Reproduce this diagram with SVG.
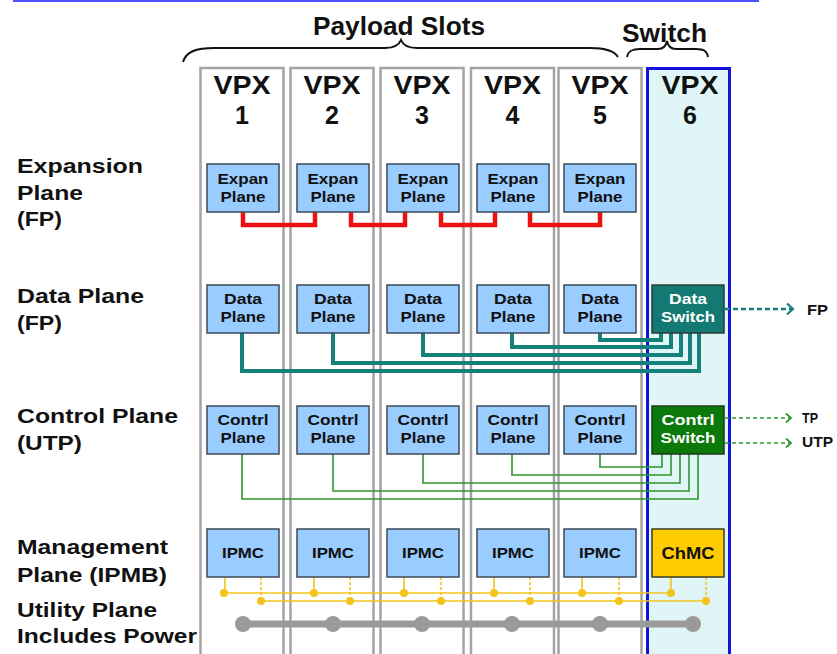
<svg xmlns="http://www.w3.org/2000/svg" width="837" height="654" viewBox="0 0 837 654">
  <style>
    text { font-family: "Liberation Sans", Arial, sans-serif; font-weight: bold; fill: #111; }
    .big { font-size: 25px; }
    .lbl { font-size: 20px; }
    .bx { font-size: 15px; text-anchor: middle; }
    .wt { fill: #ffffff; }
    .tag { font-size: 15px; }
    .slot { fill: #ffffff; stroke: #a3a3a3; stroke-width: 2.5; }
    .slot6 { fill: #e0f6f6; stroke: #1212dd; stroke-width: 3; }
    .card { fill: #99ccff; stroke: #3c4a58; stroke-width: 1.5; }
    .brace { fill: none; stroke: #111; stroke-width: 2; }
    .exp { fill: none; stroke: #ee1111; stroke-width: 4.5; }
    .dat { fill: none; stroke: #14807a; stroke-width: 4; }
    .ctl { fill: none; stroke: #2f952f; stroke-width: 1.6; }
    .ipa { fill: none; stroke: #f2c41c; stroke-width: 1.6; }
    .ipb { fill: none; stroke: #f2c41c; stroke-width: 1.6; stroke-dasharray: 3 2; }
    .dot { fill: #f2c41c; }
    .pwr { fill: none; stroke: #9a9a9a; stroke-width: 7; }
    .pdot { fill: #9a9a9a; }
  </style>
  <defs>
    <marker id="chevT" markerUnits="userSpaceOnUse" markerWidth="14" markerHeight="14" refX="9" refY="7" orient="auto">
      <polyline points="3,1.5 9,7 3,12.5" fill="none" stroke="#14807a" stroke-width="2.2"/>
    </marker>
    <marker id="chevG" markerUnits="userSpaceOnUse" markerWidth="12" markerHeight="12" refX="8" refY="6" orient="auto">
      <polyline points="3,1.5 8,6 3,10.5" fill="none" stroke="#2f952f" stroke-width="1.7"/>
    </marker>
  </defs>

  <!-- top rule -->
  <rect x="13" y="0" width="746" height="2" fill="#5050ff"/>

  <!-- headings and braces -->
  <g id="heading-payload">
    <text class="big" x="313" y="35" textLength="172" lengthAdjust="spacingAndGlyphs">Payload Slots</text>
    <path class="brace" d="M183,62 C186,52 195,48 215,48 L385,48 C395,48 399,45 401,40 C403,45 407,48 417,48 L590,48 C606,48 615,52 618,57"/>
  </g>
  <g id="heading-switch">
    <text class="big" x="622" y="42" textLength="85" lengthAdjust="spacingAndGlyphs">Switch</text>
    <path class="brace" d="M627,57 C628,51 632,49 640,49 L658,49 C663,49 666,46 667,41 C668,46 671,49 676,49 L696,49 C704,49 707,51 708,57"/>
  </g>

  <!-- plane labels -->
  <g id="row-labels">
    <text class="lbl" x="17" y="173" textLength="126" lengthAdjust="spacingAndGlyphs">Expansion</text>
    <text class="lbl" x="17" y="200" textLength="66" lengthAdjust="spacingAndGlyphs">Plane</text>
    <text class="lbl" x="17" y="226" textLength="45" lengthAdjust="spacingAndGlyphs">(FP)</text>
    <text class="lbl" x="17" y="303" textLength="127" lengthAdjust="spacingAndGlyphs">Data Plane</text>
    <text class="lbl" x="17" y="330" textLength="45" lengthAdjust="spacingAndGlyphs">(FP)</text>
    <text class="lbl" x="17" y="423" textLength="161" lengthAdjust="spacingAndGlyphs">Control Plane</text>
    <text class="lbl" x="17" y="450" textLength="65" lengthAdjust="spacingAndGlyphs">(UTP)</text>
    <text class="lbl" x="17" y="554" textLength="151" lengthAdjust="spacingAndGlyphs">Management</text>
    <text class="lbl" x="17" y="582" textLength="150" lengthAdjust="spacingAndGlyphs">Plane (IPMB)</text>
    <text class="lbl" x="17" y="617" textLength="140" lengthAdjust="spacingAndGlyphs">Utility Plane</text>
    <text class="lbl" x="17" y="643" textLength="180" lengthAdjust="spacingAndGlyphs">Includes Power</text>
  </g>

  <!-- slot columns -->
  <g id="slot-1">
    <rect class="slot" x="200.5" y="68" width="83" height="600"/>
    <text class="big" x="242" y="94" text-anchor="middle" textLength="57" lengthAdjust="spacingAndGlyphs">VPX</text>
    <text class="big" x="242" y="124" text-anchor="middle">1</text>
  </g>
  <g id="slot-2">
    <rect class="slot" x="290.5" y="68" width="83" height="600"/>
    <text class="big" x="332" y="94" text-anchor="middle" textLength="57" lengthAdjust="spacingAndGlyphs">VPX</text>
    <text class="big" x="332" y="124" text-anchor="middle">2</text>
  </g>
  <g id="slot-3">
    <rect class="slot" x="380.5" y="68" width="83" height="600"/>
    <text class="big" x="422" y="94" text-anchor="middle" textLength="57" lengthAdjust="spacingAndGlyphs">VPX</text>
    <text class="big" x="422" y="124" text-anchor="middle">3</text>
  </g>
  <g id="slot-4">
    <rect class="slot" x="471" y="68" width="83" height="600"/>
    <text class="big" x="512.5" y="94" text-anchor="middle" textLength="57" lengthAdjust="spacingAndGlyphs">VPX</text>
    <text class="big" x="512.5" y="124" text-anchor="middle">4</text>
  </g>
  <g id="slot-5">
    <rect class="slot" x="558.5" y="68" width="83" height="600"/>
    <text class="big" x="600" y="94" text-anchor="middle" textLength="57" lengthAdjust="spacingAndGlyphs">VPX</text>
    <text class="big" x="600" y="124" text-anchor="middle">5</text>
  </g>
  <g id="slot-6">
    <rect class="slot6" x="647.5" y="68.5" width="82" height="600"/>
    <text class="big" x="690" y="94" text-anchor="middle" textLength="57" lengthAdjust="spacingAndGlyphs">VPX</text>
    <text class="big" x="690" y="124" text-anchor="middle">6</text>
  </g>

  <!-- connectors -->
  <g id="connectors">
    <!-- expansion plane links -->
    <path class="exp" d="M243,212 V225 H315 V212"/>
    <path class="exp" d="M351,212 V225 H405 V212"/>
    <path class="exp" d="M441,212 V225 H495 V212"/>
    <path class="exp" d="M530,212 V225 H600 V212"/>
    <!-- data plane to data switch -->
    <path class="dat" d="M600,333 V340 H661 V333"/>
    <path class="dat" d="M512,333 V347 H671 V333"/>
    <path class="dat" d="M423,333 V355 H681 V333"/>
    <path class="dat" d="M333,333 V363 H690 V333"/>
    <path class="dat" d="M242,333 V371 H699 V333"/>
    <!-- control plane to control switch -->
    <path class="ctl" d="M600,454 V467 H662 V454"/>
    <path class="ctl" d="M512,454 V475 H671 V454"/>
    <path class="ctl" d="M423,454 V483 H680 V454"/>
    <path class="ctl" d="M333,454 V491 H689 V454"/>
    <path class="ctl" d="M242,454 V499 H698 V454"/>
    <!-- external fabric links -->
    <line x1="725" y1="309" x2="793" y2="309" stroke="#14807a" stroke-width="2.4" stroke-dasharray="5 3" marker-end="url(#chevT)"/>
    <line x1="725" y1="418" x2="791" y2="418" stroke="#2f952f" stroke-width="1.6" stroke-dasharray="4 3" marker-end="url(#chevG)"/>
    <line x1="725" y1="443" x2="791" y2="443" stroke="#2f952f" stroke-width="1.6" stroke-dasharray="4 3" marker-end="url(#chevG)"/>
    <!-- IPMB A -->
    <path class="ipa" d="M221,593 H671"/>
    <path class="ipa" d="M225,577 V593 M314,577 V593 M404,577 V593 M494,577 V593 M582,577 V593 M671,577 V593"/>
    <!-- IPMB B -->
    <path class="ipa" d="M259,601 H706"/>
    <path class="ipb" d="M261,577 V601 M350,577 V601 M441,577 V601 M530,577 V601 M619,577 V601 M706,577 V601"/>
    <g>
      <circle class="dot" cx="224" cy="593" r="4"/>
      <circle class="dot" cx="314" cy="593" r="4"/>
      <circle class="dot" cx="404" cy="593" r="4"/>
      <circle class="dot" cx="494" cy="593" r="4"/>
      <circle class="dot" cx="582" cy="593" r="4"/>
      <circle class="dot" cx="671" cy="593" r="4"/>
      <circle class="dot" cx="261" cy="601" r="4"/>
      <circle class="dot" cx="350" cy="601" r="4"/>
      <circle class="dot" cx="441" cy="601" r="4"/>
      <circle class="dot" cx="530" cy="601" r="4"/>
      <circle class="dot" cx="619" cy="601" r="4"/>
      <circle class="dot" cx="706" cy="601" r="4"/>
    </g>
    <!-- utility power bus -->
    <path class="pwr" d="M243,624 H693"/>
    <g>
      <circle class="pdot" cx="243" cy="624" r="8"/>
      <circle class="pdot" cx="333" cy="624" r="8"/>
      <circle class="pdot" cx="422" cy="624" r="8"/>
      <circle class="pdot" cx="512" cy="624" r="8"/>
      <circle class="pdot" cx="600" cy="624" r="8"/>
      <circle class="pdot" cx="693" cy="624" r="8"/>
    </g>
  </g>

  <text class="tag" x="807" y="315" textLength="21" lengthAdjust="spacingAndGlyphs">FP</text>
  <text class="tag" x="802" y="423" textLength="16" lengthAdjust="spacingAndGlyphs">TP</text>
  <text class="tag" x="802" y="447" textLength="31" lengthAdjust="spacingAndGlyphs">UTP</text>

  <!-- expansion plane cards -->
  <g id="exp-1"><rect class="card" x="207" y="164" width="72" height="48"/><text class="bx" x="243" y="184" textLength="51" lengthAdjust="spacingAndGlyphs">Expan</text><text class="bx" x="243" y="202" textLength="45" lengthAdjust="spacingAndGlyphs">Plane</text></g>
  <g id="exp-2"><rect class="card" x="297" y="164" width="72" height="48"/><text class="bx" x="333" y="184" textLength="51" lengthAdjust="spacingAndGlyphs">Expan</text><text class="bx" x="333" y="202" textLength="45" lengthAdjust="spacingAndGlyphs">Plane</text></g>
  <g id="exp-3"><rect class="card" x="387" y="164" width="72" height="48"/><text class="bx" x="423" y="184" textLength="51" lengthAdjust="spacingAndGlyphs">Expan</text><text class="bx" x="423" y="202" textLength="45" lengthAdjust="spacingAndGlyphs">Plane</text></g>
  <g id="exp-4"><rect class="card" x="477" y="164" width="72" height="48"/><text class="bx" x="513" y="184" textLength="51" lengthAdjust="spacingAndGlyphs">Expan</text><text class="bx" x="513" y="202" textLength="45" lengthAdjust="spacingAndGlyphs">Plane</text></g>
  <g id="exp-5"><rect class="card" x="564" y="164" width="72" height="48"/><text class="bx" x="600" y="184" textLength="51" lengthAdjust="spacingAndGlyphs">Expan</text><text class="bx" x="600" y="202" textLength="45" lengthAdjust="spacingAndGlyphs">Plane</text></g>

  <!-- data plane cards -->
  <g id="data-1"><rect class="card" x="207" y="285" width="72" height="48"/><text class="bx" x="243" y="304" textLength="38" lengthAdjust="spacingAndGlyphs">Data</text><text class="bx" x="243" y="322" textLength="45" lengthAdjust="spacingAndGlyphs">Plane</text></g>
  <g id="data-2"><rect class="card" x="297" y="285" width="72" height="48"/><text class="bx" x="333" y="304" textLength="38" lengthAdjust="spacingAndGlyphs">Data</text><text class="bx" x="333" y="322" textLength="45" lengthAdjust="spacingAndGlyphs">Plane</text></g>
  <g id="data-3"><rect class="card" x="387" y="285" width="72" height="48"/><text class="bx" x="423" y="304" textLength="38" lengthAdjust="spacingAndGlyphs">Data</text><text class="bx" x="423" y="322" textLength="45" lengthAdjust="spacingAndGlyphs">Plane</text></g>
  <g id="data-4"><rect class="card" x="477" y="285" width="72" height="48"/><text class="bx" x="513" y="304" textLength="38" lengthAdjust="spacingAndGlyphs">Data</text><text class="bx" x="513" y="322" textLength="45" lengthAdjust="spacingAndGlyphs">Plane</text></g>
  <g id="data-5"><rect class="card" x="564" y="285" width="72" height="48"/><text class="bx" x="600" y="304" textLength="38" lengthAdjust="spacingAndGlyphs">Data</text><text class="bx" x="600" y="322" textLength="45" lengthAdjust="spacingAndGlyphs">Plane</text></g>
  <g id="data-switch"><rect x="652" y="285" width="72" height="48" fill="#127a72" stroke="#2d3a3a" stroke-width="1.5"/><text class="bx wt" x="688" y="304" textLength="38" lengthAdjust="spacingAndGlyphs">Data</text><text class="bx wt" x="688" y="322" textLength="54" lengthAdjust="spacingAndGlyphs">Switch</text></g>

  <!-- control plane cards -->
  <g id="ctrl-1"><rect class="card" x="207" y="406" width="72" height="48"/><text class="bx" x="243" y="425" textLength="51" lengthAdjust="spacingAndGlyphs">Contrl</text><text class="bx" x="243" y="443" textLength="45" lengthAdjust="spacingAndGlyphs">Plane</text></g>
  <g id="ctrl-2"><rect class="card" x="297" y="406" width="72" height="48"/><text class="bx" x="333" y="425" textLength="51" lengthAdjust="spacingAndGlyphs">Contrl</text><text class="bx" x="333" y="443" textLength="45" lengthAdjust="spacingAndGlyphs">Plane</text></g>
  <g id="ctrl-3"><rect class="card" x="387" y="406" width="72" height="48"/><text class="bx" x="423" y="425" textLength="51" lengthAdjust="spacingAndGlyphs">Contrl</text><text class="bx" x="423" y="443" textLength="45" lengthAdjust="spacingAndGlyphs">Plane</text></g>
  <g id="ctrl-4"><rect class="card" x="477" y="406" width="72" height="48"/><text class="bx" x="513" y="425" textLength="51" lengthAdjust="spacingAndGlyphs">Contrl</text><text class="bx" x="513" y="443" textLength="45" lengthAdjust="spacingAndGlyphs">Plane</text></g>
  <g id="ctrl-5"><rect class="card" x="564" y="406" width="72" height="48"/><text class="bx" x="600" y="425" textLength="51" lengthAdjust="spacingAndGlyphs">Contrl</text><text class="bx" x="600" y="443" textLength="45" lengthAdjust="spacingAndGlyphs">Plane</text></g>
  <g id="ctrl-switch"><rect x="652" y="406" width="72" height="48" fill="#0b7a0b" stroke="#1f3a1f" stroke-width="1.5"/><text class="bx wt" x="688" y="425" textLength="53" lengthAdjust="spacingAndGlyphs">Contrl</text><text class="bx wt" x="688" y="443" textLength="55" lengthAdjust="spacingAndGlyphs">Switch</text></g>

  <!-- management controllers -->
  <g id="ipmc-1"><rect class="card" x="207" y="529" width="72" height="48"/><text class="bx" x="243" y="558" textLength="42" lengthAdjust="spacingAndGlyphs">IPMC</text></g>
  <g id="ipmc-2"><rect class="card" x="297" y="529" width="72" height="48"/><text class="bx" x="333" y="558" textLength="42" lengthAdjust="spacingAndGlyphs">IPMC</text></g>
  <g id="ipmc-3"><rect class="card" x="387" y="529" width="72" height="48"/><text class="bx" x="423" y="558" textLength="42" lengthAdjust="spacingAndGlyphs">IPMC</text></g>
  <g id="ipmc-4"><rect class="card" x="477" y="529" width="72" height="48"/><text class="bx" x="513" y="558" textLength="42" lengthAdjust="spacingAndGlyphs">IPMC</text></g>
  <g id="ipmc-5"><rect class="card" x="564" y="529" width="72" height="48"/><text class="bx" x="600" y="558" textLength="42" lengthAdjust="spacingAndGlyphs">IPMC</text></g>
  <g id="chmc"><rect x="652" y="529" width="72" height="48" fill="#ffcc00" stroke="#3a3a2a" stroke-width="1.5"/><text class="bx" x="688" y="559" style="font-size:16px" textLength="53" lengthAdjust="spacingAndGlyphs">ChMC</text></g>
</svg>
